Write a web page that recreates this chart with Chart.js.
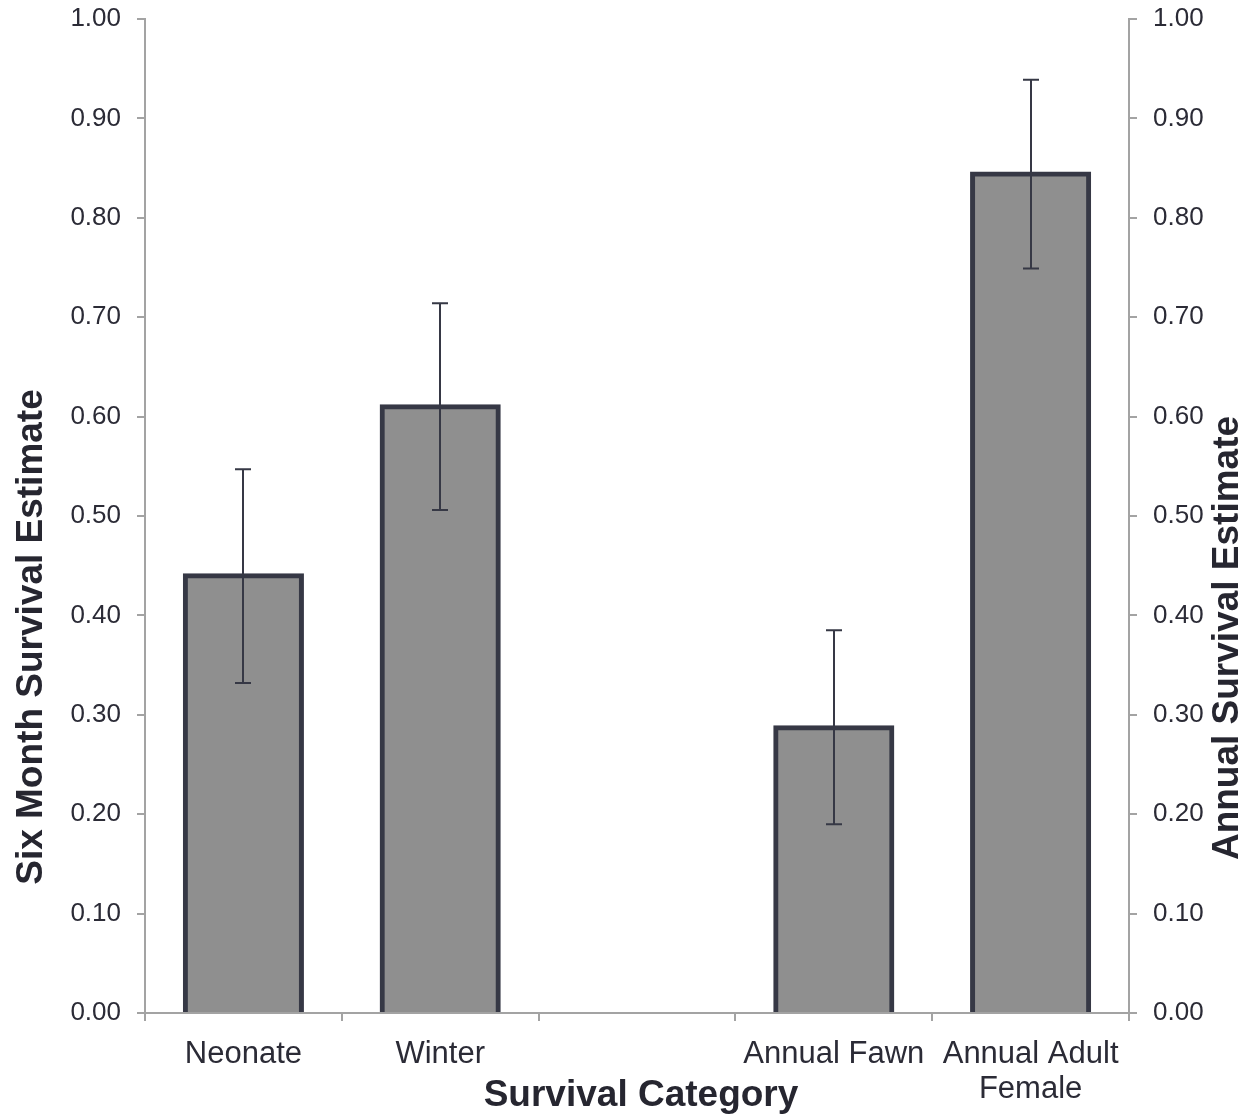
<!DOCTYPE html>
<html>
<head>
<meta charset="utf-8">
<title>Survival Estimates</title>
<script src="https://cdn.jsdelivr.net/npm/chart.js@4"></script>
<style>
  html, body { margin: 0; padding: 0; background: #ffffff; }
  #wrap { width: 1259px; height: 1115px; }
</style>
</head>
<body>
<div id="wrap"><canvas id="chart" width="1259" height="1115"></canvas></div>
<script>
// Survival categories (the blank slot separates six-month from annual estimates)
const categories = ['Neonate', 'Winter', '', 'Annual Fawn', ['Annual Adult', 'Female']];
// Point estimates
const estimates = [0.44, 0.61, null, 0.287, 0.844];
// Confidence limits
const lowerBounds = [0.332, 0.506, null, 0.190, 0.749];
const upperBounds = [0.547, 0.714, null, 0.385, 0.939];
// Axis range and step
const axisMin = 0;
const axisMax = 1;
const axisStep = 0.1;

const FONT = '"Liberation Sans", Arial, Helvetica, sans-serif';
const TEXT = '#2b2b36';
const AXIS = '#a3a3a3';
const BAR_FILL = '#8f8f8f';
const BAR_EDGE = '#363845';

// Vertical error bars with caps
const errorBars = {
  id: 'errorBars',
  afterDatasetsDraw(chart) {
    const ctx = chart.ctx;
    const meta = chart.getDatasetMeta(0);
    const ys = chart.scales.y;
    const cap = 8;
    ctx.save();
    ctx.strokeStyle = BAR_EDGE;
    ctx.lineWidth = 2;
    estimates.forEach((v, i) => {
      if (v == null) return;
      const x = Math.round(meta.data[i].x);
      const top = ys.getPixelForValue(upperBounds[i]);
      const bot = ys.getPixelForValue(lowerBounds[i]);
      ctx.beginPath();
      ctx.moveTo(x, top);
      ctx.lineTo(x, bot);
      ctx.moveTo(x - cap, top);
      ctx.lineTo(x + cap, top);
      ctx.moveTo(x - cap, bot);
      ctx.lineTo(x + cap, bot);
      ctx.stroke();
    });
    ctx.restore();
  }
};

// Axis titles
const axisTitles = {
  id: 'axisTitles',
  afterDraw(chart) {
    const ctx = chart.ctx;
    ctx.save();
    ctx.font = 'bold 37px ' + FONT;
    ctx.fillStyle = '#262630';
    ctx.textAlign = 'center';
    ctx.textBaseline = 'alphabetic';
    ctx.fillText('Survival Category', 641, 1106);

    ctx.save();
    ctx.translate(42, 637);
    ctx.rotate(-Math.PI / 2);
    ctx.fillText('Six Month Survival Estimate', 0, 0);
    ctx.restore();

    ctx.save();
    ctx.translate(1238, 638);
    ctx.rotate(-Math.PI / 2);
    ctx.fillText('Annual Survival Estimate', 0, 0);
    ctx.restore();
    ctx.restore();
  }
};

const valueAxis = (position, width) => ({
  position: position,
  min: axisMin,
  max: axisMax,
  ticks: {
    stepSize: axisStep,
    callback: v => Number(v).toFixed(2),
    font: { family: FONT, size: 26 },
    color: TEXT,
    padding: 16
  },
  grid: { drawOnChartArea: false, drawTicks: true, tickLength: 8, color: AXIS, lineWidth: 2 },
  border: { display: true, color: AXIS, width: 2 },
  afterFit(scale) {
    scale.width = width;
    scale.paddingTop = 0;
    scale.paddingBottom = 0;
  }
});

new Chart(document.getElementById('chart'), {
  type: 'bar',
  data: {
    labels: categories,
    datasets: [{
      data: estimates,
      backgroundColor: BAR_FILL,
      borderColor: BAR_EDGE,
      borderWidth: 5,
      borderSkipped: 'start',
      inflateAmount: 2.5,
      barPercentage: 0.59,
      categoryPercentage: 1.0,
      yAxisID: 'y'
    }]
  },
  options: {
    responsive: false,
    animation: false,
    devicePixelRatio: 1,
    layout: { padding: { top: 19, left: 0, right: 0, bottom: 0 } },
    plugins: { legend: { display: false }, tooltip: { enabled: false } },
    scales: {
      x: {
        type: 'category',
        offset: true,
        z: 1,
        grid: { display: true, drawOnChartArea: false, drawTicks: true, tickLength: 8, offset: true, color: AXIS, lineWidth: 2 },
        border: { display: true, color: AXIS, width: 2 },
        ticks: {
          font: { family: FONT, size: 31, lineHeight: 1.16 },
          color: TEXT,
          padding: 15,
          maxRotation: 0,
          autoSkip: false
        },
        afterFit(scale) {
          scale.height = 102;
          scale.paddingLeft = 0;
          scale.paddingRight = 0;
        }
      },
      y: valueAxis('left', 145),
      y2: valueAxis('right', 130)
    }
  },
  plugins: [errorBars, axisTitles]
});
</script>
</body>
</html>
